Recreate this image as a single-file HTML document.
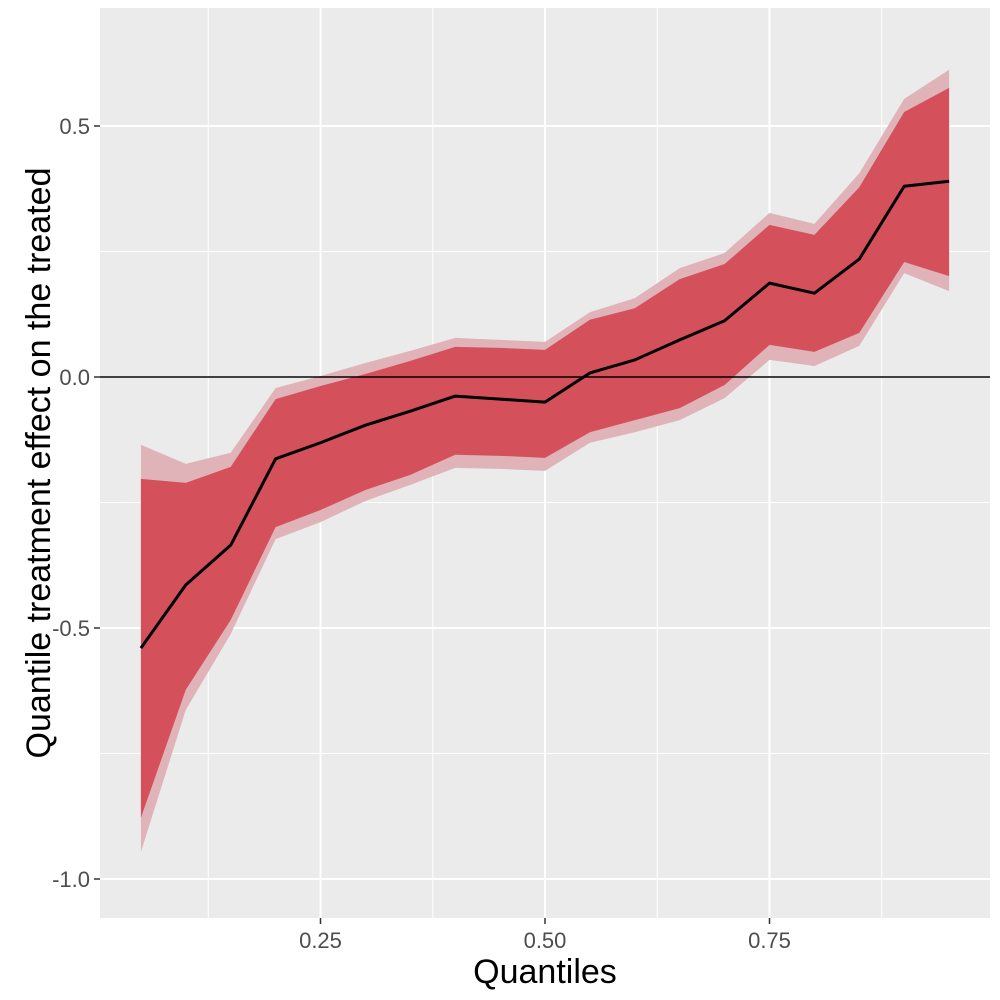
<!DOCTYPE html>
<html><head><meta charset="utf-8"><style>body{margin:0;background:#fff}svg{display:block;font-family:"Liberation Sans",Arial,sans-serif}</style></head>
<body>
<svg id="chart" width="1000" height="1000">
<rect x="100" y="8" width="890" height="910" fill="#ebebeb"/>
<g id="grid"></g><g id="bands"></g><g id="lines"></g><g id="axes"></g>
<text x="545" y="983" text-anchor="middle" font-size="34" fill="#000">Quantiles</text>
<text transform="translate(50,463) rotate(-90)" text-anchor="middle" font-size="34" fill="#000">Quantile treatment effect on the treated</text>
</svg>
<script>
const quantiles=[0.05,0.10,0.15,0.20,0.25,0.30,0.35,0.40,0.45,0.50,0.55,0.60,0.65,0.70,0.75,0.80,0.85,0.90,0.95];
const estimate=[-0.54,-0.414,-0.335,-0.163,-0.131,-0.096,-0.068,-0.038,-0.044,-0.05,0.008,0.034,0.074,0.112,0.187,0.167,0.235,0.38,0.39];
const innerUpper=[-0.203,-0.211,-0.179,-0.044,-0.018,0.006,0.032,0.06,0.058,0.054,0.114,0.137,0.195,0.225,0.303,0.283,0.378,0.528,0.576];
const innerLower=[-0.878,-0.623,-0.484,-0.299,-0.265,-0.225,-0.195,-0.155,-0.157,-0.161,-0.11,-0.086,-0.062,-0.016,0.064,0.05,0.088,0.229,0.201];
const outerUpper=[-0.135,-0.173,-0.151,-0.022,0.002,0.028,0.052,0.078,0.074,0.07,0.129,0.157,0.217,0.247,0.327,0.305,0.406,0.554,0.612];
const outerLower=[-0.946,-0.663,-0.512,-0.323,-0.289,-0.247,-0.215,-0.181,-0.183,-0.187,-0.131,-0.11,-0.086,-0.042,0.034,0.022,0.062,0.207,0.171];
const xTicks=[0.25,0.5,0.75];const xTickLabels=["0.25","0.50","0.75"];
const yTicks=[-1,-0.5,0,0.5];const yTickLabels=["-1.0","-0.5","0.0","0.5"];
const xMinor=[0.125,0.375,0.625,0.875];const yMinor=[-0.75,-0.25,0.25];
const X=q=>545+(q-0.5)*898, Y=v=>377-v*502;
const NS="http://www.w3.org/2000/svg";
function mk(p,t,a){const e=document.createElementNS(NS,t);for(const k in a)e.setAttribute(k,a[k]);p.appendChild(e);return e;}
const grid=document.getElementById('grid');
xMinor.forEach(q=>{const e=mk(grid,'line',{x1:X(q),x2:X(q),y1:8,y2:918,stroke:'#fff','stroke-width':1});

});
yMinor.forEach(v=>{const e=mk(grid,'line',{x1:100,x2:990,y1:Y(v),y2:Y(v),stroke:'#fff','stroke-width':1});

});
xTicks.forEach(q=>{const e=mk(grid,'line',{x1:X(q),x2:X(q),y1:8,y2:918,stroke:'#fff','stroke-width':2});

});
yTicks.forEach(v=>{const e=mk(grid,'line',{x1:100,x2:990,y1:Y(v),y2:Y(v),stroke:'#fff','stroke-width':2});

});
function band(up,lo){let d=quantiles.map((q,i)=>(i?'L':'M')+X(q)+','+Y(up[i])).join('');
for(let i=quantiles.length-1;i>=0;i--)d+='L'+X(quantiles[i])+','+Y(lo[i]);return d+'Z';}
const bands=document.getElementById('bands');
const ob=mk(bands,'path',{d:band(outerUpper,outerLower),fill:'#dfb3b7'});


const ib=mk(bands,'path',{d:band(innerUpper,innerLower),fill:'#d4515b'});


const lines=document.getElementById('lines');
const zl=mk(lines,'line',{x1:100,x2:990,y1:Y(0),y2:Y(0),stroke:'#000','stroke-width':1.5});


const el=mk(lines,'path',{d:quantiles.map((q,i)=>(i?'L':'M')+X(q)+','+Y(estimate[i])).join(''),fill:'none',stroke:'#000','stroke-width':3,'stroke-linejoin':'round'});


const axes=document.getElementById('axes');
xTicks.forEach((q,i)=>{mk(axes,'line',{x1:X(q),x2:X(q),y1:918,y2:924,stroke:'#333','stroke-width':1.5});
const t=mk(axes,'text',{x:X(q),y:948,'text-anchor':'middle','font-size':22,fill:'#4d4d4d'});t.textContent=xTickLabels[i];

});
yTicks.forEach((v,i)=>{mk(axes,'line',{x1:94,x2:100,y1:Y(v),y2:Y(v),stroke:'#333','stroke-width':1.5});
const t=mk(axes,'text',{x:90,y:Y(v)+8,'text-anchor':'end','font-size':22,fill:'#4d4d4d'});t.textContent=yTickLabels[i];

});
</script>
</body></html>
